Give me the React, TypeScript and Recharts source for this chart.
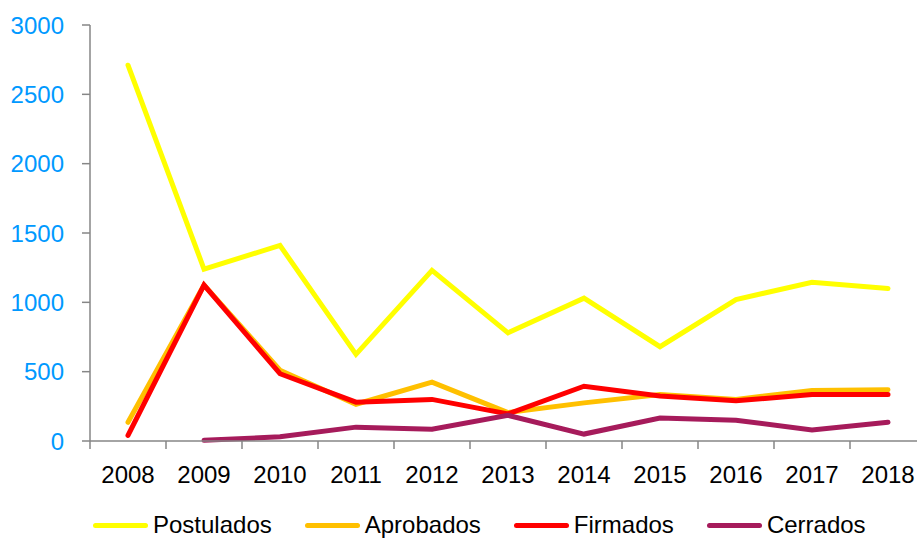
import React from 'react';
import { LineChart, Line, XAxis, YAxis, Legend } from 'recharts';

const years = ['2008', '2009', '2010', '2011', '2012', '2013', '2014', '2015', '2016', '2017', '2018'];
const postulados = [2710, 1240, 1410, 625, 1230, 780, 1030, 680, 1020, 1145, 1100];
const aprobados = [135, 1125, 510, 265, 425, 205, 275, 335, 300, 365, 370];
const firmados = [40, 1125, 485, 280, 300, 195, 395, 325, 290, 335, 335];
const cerrados = [null, 5, 30, 100, 85, 185, 50, 165, 150, 80, 135];
const yTicks = [0, 500, 1000, 1500, 2000, 2500, 3000];

const series = [
  { key: 'Postulados', color: '#FFFF00' },
  { key: 'Aprobados', color: '#FFC000' },
  { key: 'Firmados', color: '#FF0000' },
  { key: 'Cerrados', color: '#A61B5B' },
];

const data = years.map((year, i) => ({
  year,
  Postulados: postulados[i],
  Aprobados: aprobados[i],
  Firmados: firmados[i],
  Cerrados: cerrados[i],
}));

const FONT = '"Liberation Sans", Arial, sans-serif';
const AXIS = '#868686';
const HALF_BAND = 38;

// Excel puts tick marks between categories, label in the middle
const YearTick = ({ x, y, payload }: any) => (
  <g>
    <line x1={x - HALF_BAND} y1={y} x2={x - HALF_BAND} y2={y + 8} stroke={AXIS} strokeWidth={1.5} />
    <text x={x} y={y + 42} textAnchor="middle" fill="#000" fontSize={24} fontFamily={FONT}>
      {payload.value}
    </text>
  </g>
);

const LegendContent = () => (
  <div style={{ display: 'flex', alignItems: 'center', height: 34, fontFamily: FONT, fontSize: 24, lineHeight: '34px', whiteSpace: 'nowrap' }}>
    {series.map((s) => (
      <div key={s.key} style={{ display: 'flex', alignItems: 'center', marginRight: 33 }}>
        <div style={{ width: 55, height: 5, borderRadius: 3, background: s.color, marginRight: 5 }} />
        <span style={{ color: '#000' }}>{s.key}</span>
      </div>
    ))}
  </div>
);

export default function App() {
  return (
    <div style={{ position: 'absolute', left: 0, top: 0, width: 917, height: 542, overflow: 'hidden', background: '#fff' }}>
      <LineChart width={930} height={560} data={data} margin={{ top: 25, right: 4, left: 10, bottom: 0 }}>
        <XAxis
          dataKey="year"
          height={79}
          padding={{ left: HALF_BAND, right: HALF_BAND }}
          stroke={AXIS}
          strokeWidth={1.5}
          tickLine={false}
          tickSize={0}
          tickMargin={0}
          tick={<YearTick />}
          interval={0}
        />
        <YAxis
          width={80}
          domain={[0, 3000]}
          ticks={yTicks}
          stroke={AXIS}
          strokeWidth={1.5}
          tickSize={8}
          tickMargin={18}
          tick={{ fill: '#0099FF', fontSize: 24, fontFamily: FONT }}
        />
        <Legend
          verticalAlign="bottom"
          height={40}
          content={<LegendContent />}
          wrapperStyle={{ top: 508, left: 93, width: 'auto' }}
        />
        {series.map((s) => (
          <Line
            key={s.key}
            type="linear"
            dataKey={s.key}
            stroke={s.color}
            strokeWidth={5}
            strokeLinecap="round"
            dot={false}
            activeDot={false}
            isAnimationActive={false}
          />
        ))}
      </LineChart>
    </div>
  );
}
